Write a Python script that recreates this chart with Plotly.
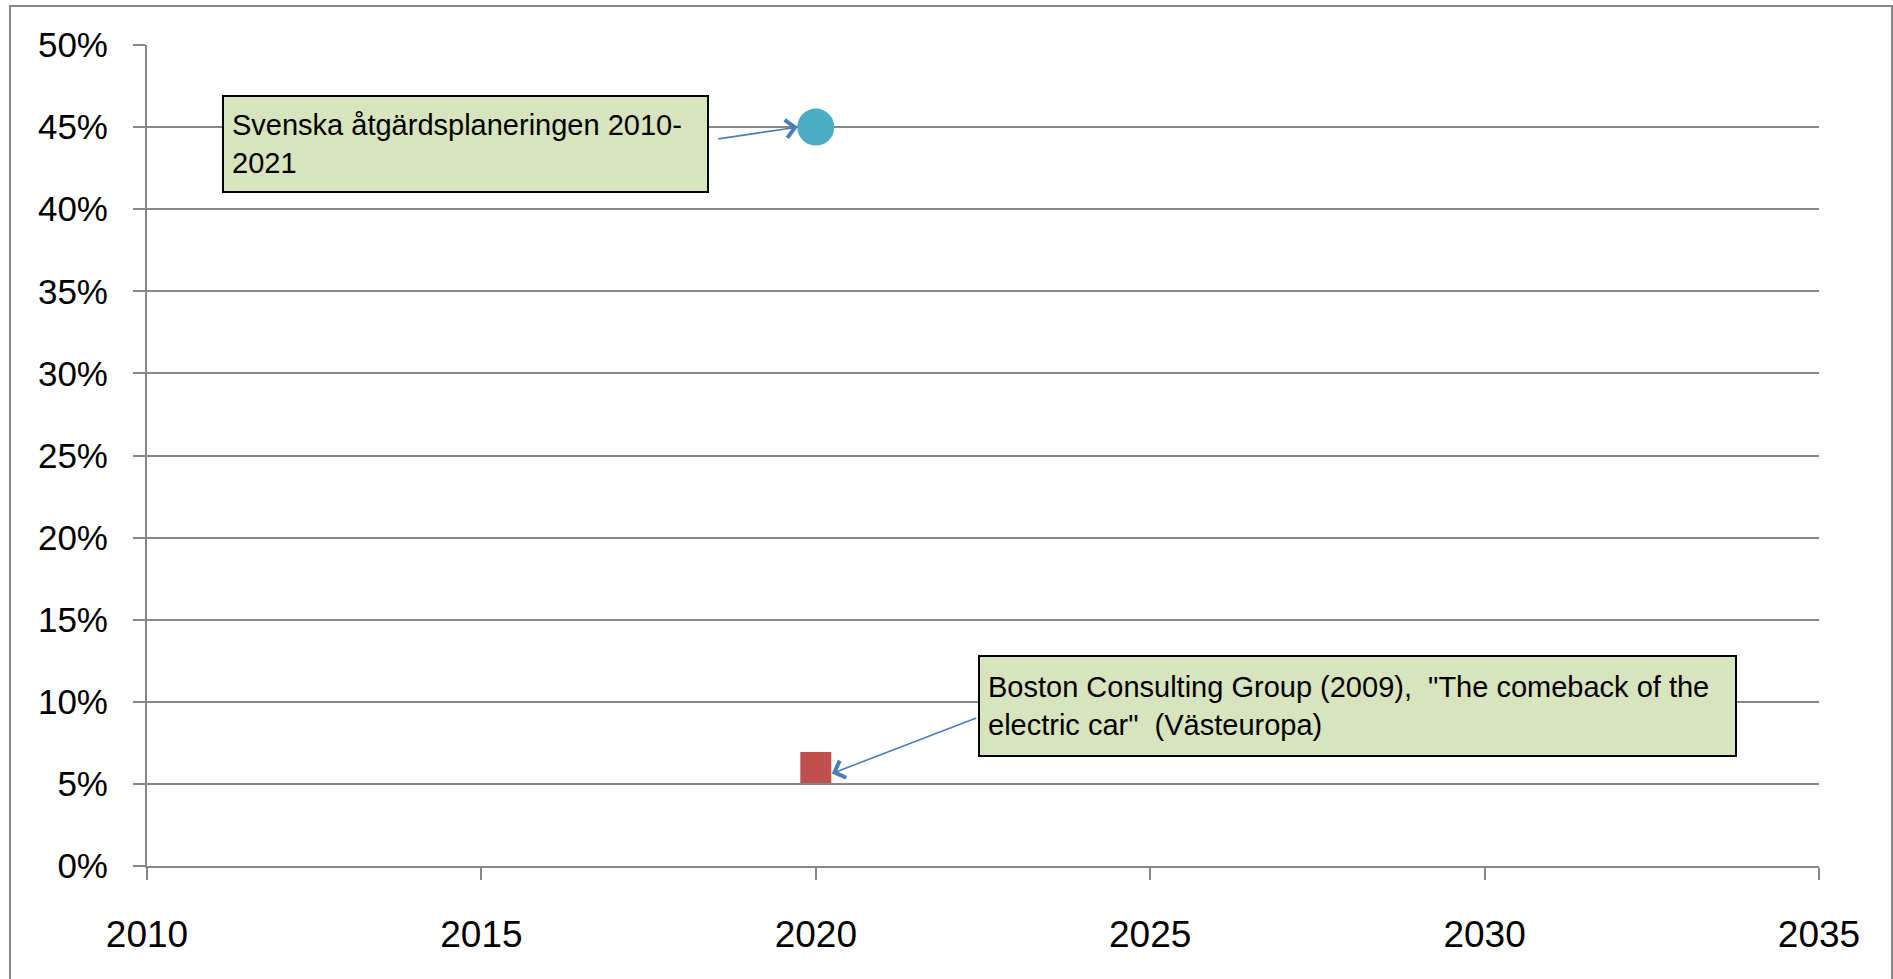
import plotly.graph_objects as go

# ---- data ----
series_names = [
    "Svenska åtgärdsplaneringen 2010-<br>2021",
    "Boston Consulting Group (2009),  \"The comeback of the<br>electric car\"  (Västeuropa)",
]
series_years = [[2020], [2020]]
series_values = [[0.45], [0.06]]
series_colors = ["#4BACC6", "#C0504D"]
series_symbols = ["circle", "square"]

x_ticks = [2010, 2015, 2020, 2025, 2030, 2035]
y_ticks = [0, 0.05, 0.10, 0.15, 0.20, 0.25, 0.30, 0.35, 0.40, 0.45, 0.50]

W, H = 1893, 979
L, R, T, B = 147, 1819, 45, 866
pw, ph = R - L, B - T

def px(xp):
    return (xp - L) / pw

def py(yp):
    return (B - yp) / ph

grid = "#878787"
fig = go.Figure()
sizes = [37, 31]
for name, xs, ys, c, s, sz in zip(series_names, series_years, series_values,
                                  series_colors, series_symbols, sizes):
    fig.add_trace(go.Scatter(x=xs, y=ys, mode="markers", name=name.replace("<br>", " "),
                             marker=dict(color=c, symbol=s, size=sz, line=dict(width=0))))

# callout boxes
boxes = [
    dict(x0=222, y0=95, x1=709, y1=193),
    dict(x0=978, y0=655, x1=1737, y1=757),
]
bp, bw = 8, 2
for txt, bx in zip(series_names, boxes):
    fig.add_annotation(
        xref="paper", yref="paper", x=px(bx["x0"]), y=py(bx["y0"]),
        xanchor="left", yanchor="top", showarrow=False, text=txt, align="left",
        valign="middle", width=bx["x1"] - bx["x0"] - 2 * (bp + bw),
        height=bx["y1"] - bx["y0"] - 2 * (bp + bw),
        bgcolor="#D7E4BD", bordercolor="#000000", borderwidth=bw, borderpad=bp,
        font=dict(family="Liberation Sans", size=29, color="#000000"),
    )

# arrows to the markers
arrows = [
    dict(i=0, xshift=-18, yshift=0, ax=-81, ay=12),
    dict(i=1, xshift=16, yshift=-6, ax=146, ay=-56),
]
for a in arrows:
    fig.add_annotation(
        x=series_years[a["i"]][0], y=series_values[a["i"]][0], xref="x", yref="y",
        xshift=a["xshift"], yshift=a["yshift"], ax=a["ax"], ay=a["ay"],
        text="", showarrow=True, arrowhead=4, arrowsize=2.2, arrowwidth=1.6,
        arrowcolor="#4A7EBB", standoff=0,
    )

# outer chart border
fig.add_shape(type="rect", xref="paper", yref="paper",
              x0=px(10), x1=px(1892), y0=py(1000), y1=py(6),
              line=dict(color=grid, width=2), fillcolor="rgba(0,0,0,0)", layer="below")

fig.update_layout(
    width=W, height=H,
    margin=dict(l=L, r=W - R, t=T, b=H - B, pad=0),
    paper_bgcolor="white", plot_bgcolor="white",
    showlegend=False,
    font=dict(family="Liberation Sans", color="#000000"),
)
fig.update_xaxes(
    range=[2010, 2035], tickvals=x_ticks, ticktext=[str(v) for v in x_ticks],
    showgrid=False, zeroline=False, showline=True, linecolor=grid, linewidth=2,
    ticks="outside", ticklen=12, tickwidth=2, tickcolor=grid,
    tickfont=dict(size=37, color="#000000"), ticklabelstandoff=23,
)
fig.update_yaxes(
    range=[0, 0.5], tickvals=y_ticks, tickformat=".0%",
    showgrid=True, gridcolor=grid, gridwidth=2, zeroline=False,
    showline=True, linecolor=grid, linewidth=2,
    ticks="outside", ticklen=12, tickwidth=2, tickcolor=grid,
    tickfont=dict(size=35, color="#000000"), ticklabelstandoff=18,
)

fig.write_html("out.html", config={"displayModeBar": False},
               post_script="document.body.style.margin='0px';")
